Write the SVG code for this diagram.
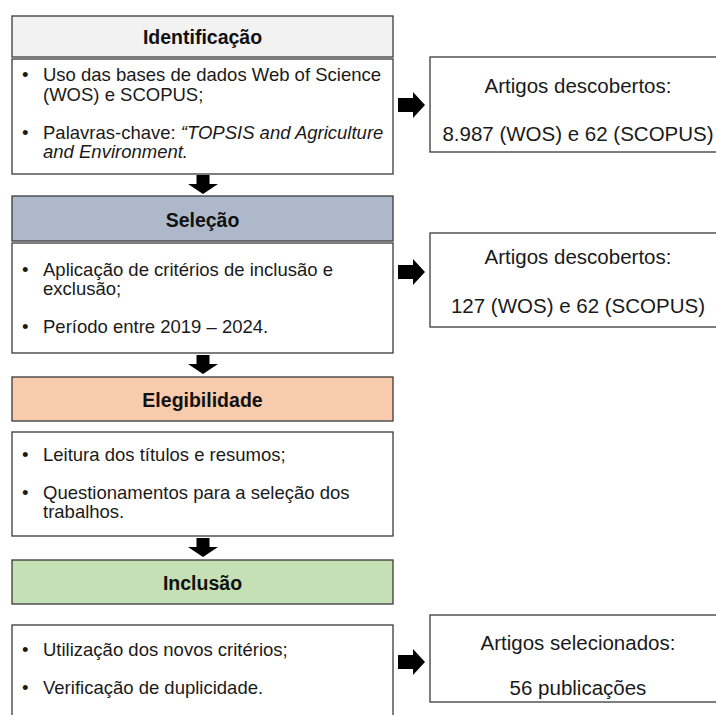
<svg xmlns="http://www.w3.org/2000/svg" width="716" height="715" viewBox="0 0 716 715">
<style>
  .box { fill: #ffffff; stroke: #3a3a3a; stroke-width: 1.3; }
  .hdr { stroke: #3a3a3a; stroke-width: 1.3; }
  .ht { font-family: "Liberation Sans", Arial, sans-serif; font-size: 19.5px; font-weight: bold; fill: #111; text-anchor: middle; }
  .bt { font-family: "Liberation Sans", Arial, sans-serif; font-size: 18.5px; fill: #1a1a1a; }
  .rt { font-family: "Liberation Sans", Arial, sans-serif; font-size: 20.5px; fill: #1a1a1a; text-anchor: middle; }
  .arr { fill: #000; }
</style>
<defs>
  <polygon id="down" points="-6.5,0 6.5,0 6.5,9 15,9 0,19 -15,9 -6.5,9"/>
  <polygon id="right" points="0,-7 15,-7 15,-13 27,0 15,13 15,7 0,7"/>
</defs>
<rect width="716" height="715" fill="#ffffff"/>

<g id="identificacao">
  <rect class="hdr" x="12" y="16" width="381" height="41" fill="#f2f2f2"/>
  <text class="ht" x="202.5" y="44">Identificação</text>
</g>
<g id="identificacao-detalhe">
  <rect class="box" x="12" y="59" width="381" height="115"/>
  <text class="bt" x="22" y="81">•</text>
  <text class="bt" x="43" y="81">Uso das bases de dados Web of Science</text>
  <text class="bt" x="43" y="101">(WOS) e SCOPUS;</text>
  <text class="bt" x="22" y="139">•</text>
  <text class="bt" x="43" y="139">Palavras-chave: <tspan font-style="italic">“TOPSIS and Agriculture</tspan></text>
  <text class="bt" x="43" y="158" font-style="italic">and Environment.</text>
</g>
<g id="resultado-identificacao">
  <rect class="box" x="430" y="57" width="296" height="95"/>
  <text class="rt" x="578" y="93">Artigos descobertos:</text>
  <text class="rt" x="578" y="141">8.987 (WOS) e 62 (SCOPUS)</text>
</g>

<g id="selecao">
  <rect class="hdr" x="12" y="196" width="381" height="45" fill="#adb9ca"/>
  <text class="ht" x="202.5" y="227">Seleção</text>
</g>
<g id="selecao-detalhe">
  <rect class="box" x="12" y="243" width="381" height="110"/>
  <text class="bt" x="22" y="276">•</text>
  <text class="bt" x="43" y="276">Aplicação de critérios de inclusão e</text>
  <text class="bt" x="43" y="295">exclusão;</text>
  <text class="bt" x="22" y="333">•</text>
  <text class="bt" x="43" y="333">Período entre 2019 – 2024.</text>
</g>
<g id="resultado-selecao">
  <rect class="box" x="430" y="233" width="296" height="94"/>
  <text class="rt" x="578" y="264">Artigos descobertos:</text>
  <text class="rt" x="578" y="313">127 (WOS) e 62 (SCOPUS)</text>
</g>

<g id="elegibilidade">
  <rect class="hdr" x="12" y="377" width="381" height="44" fill="#f8cbad"/>
  <text class="ht" x="202.5" y="407">Elegibilidade</text>
</g>
<g id="elegibilidade-detalhe">
  <rect class="box" x="12" y="432" width="381" height="104"/>
  <text class="bt" x="22" y="461">•</text>
  <text class="bt" x="43" y="461">Leitura dos títulos e resumos;</text>
  <text class="bt" x="22" y="499">•</text>
  <text class="bt" x="43" y="499">Questionamentos para a seleção dos</text>
  <text class="bt" x="43" y="518">trabalhos.</text>
</g>

<g id="inclusao">
  <rect class="hdr" x="12" y="560" width="381" height="44" fill="#c5e0b4"/>
  <text class="ht" x="202.5" y="590">Inclusão</text>
</g>
<g id="inclusao-detalhe">
  <rect class="box" x="12" y="625" width="381" height="100"/>
  <text class="bt" x="22" y="656">•</text>
  <text class="bt" x="43" y="656">Utilização dos novos critérios;</text>
  <text class="bt" x="22" y="694">•</text>
  <text class="bt" x="43" y="694">Verificação de duplicidade.</text>
</g>
<g id="resultado-inclusao">
  <rect class="box" x="430" y="615" width="296" height="87"/>
  <text class="rt" x="578" y="650">Artigos selecionados:</text>
  <text class="rt" x="578" y="695">56 publicações</text>
</g>

<g id="connectors" class="arr">
  <use href="#down" x="203" y="175"/>
  <use href="#down" x="203" y="355"/>
  <use href="#down" x="203" y="538"/>
  <use href="#right" x="398" y="105"/>
  <use href="#right" x="398" y="272"/>
  <use href="#right" x="398" y="662"/>
</g>
</svg>
